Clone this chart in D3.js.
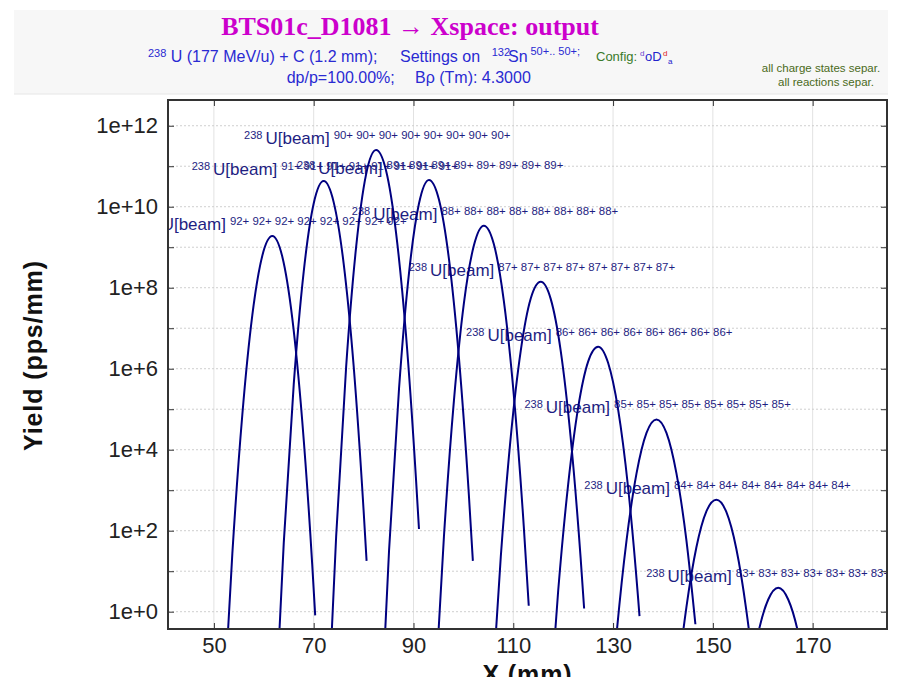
<!DOCTYPE html>
<html><head><meta charset="utf-8">
<script src="https://cdn.jsdelivr.net/npm/d3@7"></script>
<style>
html,body{margin:0;padding:0;background:#fff;}
svg{display:block;font-family:"Liberation Sans",Arial,sans-serif;}
text{white-space:pre;}
</style></head><body>
<svg id="chart" width="897" height="677"></svg>
<script>
// ---------------- data ----------------
const chargeStates = [92, 91, 90, 89, 88, 87, 86, 85, 84, 83];
const peakX = [61.7, 72.0, 82.5, 93.1, 104.1, 115.5, 127.0, 138.7, 150.7, 163.1];
const peakYield = [1.9e9, 4.3e10, 2.5e11, 4.6e10, 3.4e9, 1.4e8, 3.5e6, 5.6e4, 580, 3.9];
const curveX = [
  [51.7, 53.7, 55.7, 57.7, 59.7, 61.7, 63.7, 65.7, 67.7, 69.7, 70.3],
  [62.0, 64.0, 66.0, 68.0, 70.0, 72.0, 74.0, 76.0, 78.0, 80.0, 80.6],
  [72.5, 74.5, 76.5, 78.5, 80.5, 82.5, 84.5, 86.5, 88.5, 90.5, 91.1],
  [83.1, 85.1, 87.1, 89.1, 91.1, 93.1, 95.1, 97.1, 99.1, 101.1, 101.9],
  [94.1, 96.1, 98.1, 100.1, 102.1, 104.1, 106.1, 108.1, 110.1, 112.1, 113.1],
  [105.5, 107.5, 109.5, 111.5, 113.5, 115.5, 117.5, 119.5, 121.5, 123.5, 124.2],
  [117.0, 119.0, 121.0, 123.0, 125.0, 127.0, 129.0, 131.0, 133.0, 135.0, 135.3],
  [128.7, 130.7, 132.7, 134.7, 136.7, 138.7, 140.7, 142.7, 144.7, 146.5],
  [140.7, 142.7, 144.7, 146.7, 148.7, 150.7, 152.7, 154.7, 156.7, 158.7, 160.7],
  [157.1, 159.1, 161.1, 163.1, 165.1, 167.1, 169.1]
];
const curveYield = [
  [1.1e-3, 28, 7.4e4, 2.1e7, 6.2e8, 1.9e9, 5.9e8, 1.8e7, 5.2e4, 15, 0.81],
  [4.8e-4, 50, 4.1e5, 2.5e8, 1.2e10, 4.3e10, 1.3e10, 4.0e8, 1.2e6, 320, 18],
  [3.2e-4, 72, 1.1e6, 1.0e9, 6.3e10, 2.5e11, 7.8e10, 2.3e9, 6.9e6, 1.9e3, 110],
  [2.3e-4, 32, 3.2e5, 2.3e8, 1.2e10, 4.6e10, 1.5e10, 5.2e8, 1.9e6, 760, 18],
  [3.4e-3, 71, 1.6e5, 4.1e7, 1.1e9, 3.4e9, 1.2e9, 4.8e7, 2.3e5, 130, 1.4],
  [3.5e-3, 23, 2.1e4, 2.8e6, 5.4e7, 1.4e8, 5.3e7, 2.8e6, 2.0e4, 21, 1.2],
  [1.4e-3, 3.3, 1.4e3, 1.1e5, 1.5e6, 3.5e6, 1.4e6, 1.0e5, 1.2e3, 2.3, 0.78],
  [2.8e-4, 0.28, 58, 2.6e3, 2.6e4, 5.6e4, 2.6e4, 2.6e3, 58, 0.49],
  [2.9e-5, 0.012, 1.3, 39, 300, 580, 290, 36, 1.1, 9.1e-3, 1.8e-5],
  [0.012, 0.30, 2.0, 3.9, 2.0, 0.30, 0.012]
];
const xDomain = [40.8, 184.9];
const yDomain = [0.374, 4.32e12];
const xTicks = [50, 70, 90, 110, 130, 150, 170];
const yDecades = [1, 1e1, 1e2, 1e3, 1e4, 1e5, 1e6, 1e7, 1e8, 1e9, 1e10, 1e11, 1e12];
const yTickLabels = ["1e+0", "", "1e+2", "", "1e+4", "", "1e+6", "", "1e+8", "", "1e+10", "", "1e+12"];
const isotopeMass = "238";
const beamName = "U[beam]";

// ---------------- layout ----------------
const L = 168, R = 887, T = 100, B = 629;
const svg = d3.select("#chart");
const x = d3.scaleLinear().domain(xDomain).range([L, R]);
const y = d3.scaleLog().domain(yDomain).range([B, T]);

// header box
svg.append("rect").attr("x", 14).attr("y", 10).attr("width", 874).attr("height", 84)
  .attr("fill", "#f7f7f7");
svg.append("line").attr("x1", 14).attr("x2", 888).attr("y1", 94).attr("y2", 94)
  .attr("stroke", "#e6e6e6");

svg.append("text").attr("x", 410).attr("y", 35).attr("text-anchor", "middle")
  .attr("font-family", "'Liberation Serif','Times New Roman',serif")
  .attr("font-weight", "bold").attr("font-size", 26).attr("fill", "#cc00cc")
  .text("BTS01c_D1081 \u2192 Xspace: output");

const blue = "#2a2ad2";
function t(xp, yp, size, fill, str) {
  return svg.append("text").attr("x", xp).attr("y", yp).attr("font-size", size)
    .attr("fill", fill).text(str);
}
t(148, 57, 11, blue, "238");
t(170.7, 62, 16, blue, "U (177 MeV/u) + C (1.2 mm);");
t(400, 62, 16, blue, "Settings on");
t(491.7, 56, 11, blue, "132");
t(508, 62, 16, blue, "Sn");
t(530.5, 55, 11, blue, "50+.. 50+;");
t(596, 61, 13, "#3a7a2a", "Config:");
t(640, 56, 8, "#6a40d0", "d");
t(645, 61, 13, "#2222cc", "oD");
t(663, 56, 8, "#e02020", "d");
t(668, 64, 8, "#2222cc", "a");
t(286.7, 83, 16, blue, "dp/p=100.00%;");
t(415, 83, 16, blue, "B\u03C1 (Tm): 4.3000");
t(821, 72, 11.5, "#4a6a20", "all charge states separ.").attr("text-anchor", "middle");
t(826, 86, 11.5, "#4a6a20", "all reactions separ.").attr("text-anchor", "middle");

// grid
const grid = svg.append("g");
grid.selectAll("line.v").data(xTicks).join("line").attr("class", "v")
  .attr("x1", d => x(d)).attr("x2", d => x(d)).attr("y1", T).attr("y2", B)
  .attr("stroke", "#e2e2e2").attr("stroke-width", 1);
grid.selectAll("line.h").data(yDecades).join("line").attr("class", "h")
  .attr("x1", L).attr("x2", R).attr("y1", d => y(d)).attr("y2", d => y(d))
  .attr("stroke", "#cfcfcf").attr("stroke-width", 1).attr("stroke-dasharray", "2,2");

// clip
svg.append("defs").append("clipPath").attr("id", "plotclip")
  .append("rect").attr("x", L).attr("y", T).attr("width", R - L).attr("height", B - T);
const plot = svg.append("g").attr("clip-path", "url(#plotclip)");

// labels
const labels = plot.append("g").attr("fill", "#1e1e82");
chargeStates.forEach((c, i) => {
  const px = x(peakX[i]), py = y(peakYield[i]);
  const txt = labels.append("text").attr("x", px - 132).attr("y", py - 6);
  txt.append("tspan").attr("font-size", 11).attr("dy", -5).text(isotopeMass);
  txt.append("tspan").attr("font-size", 17).attr("dx", 3).attr("dy", 5).text(beamName);
  txt.append("tspan").attr("font-size", 11.4).attr("dx", 4).attr("dy", -5)
    .text(Array(8).fill(c + "+").join(" "));
});

// curves
const line = d3.line().x(d => x(d[0])).y(d => y(d[1])).curve(d3.curveMonotoneX);
plot.selectAll("path.curve").data(chargeStates.map((c, i) => d3.zip(curveX[i], curveYield[i])))
  .join("path").attr("class", "curve").attr("d", line)
  .attr("fill", "none").attr("stroke", "#000080").attr("stroke-width", 2);

// axes
const axFont = g => {
  g.select(".domain").remove();
  g.selectAll(".tick line").attr("stroke", "#333").attr("stroke-width", 1);
  g.selectAll(".tick text").attr("font-size", 22).attr("fill", "#222")
    .attr("font-family", "'Liberation Sans',Arial,sans-serif");
};
svg.append("g").attr("transform", `translate(0,${B})`)
  .call(d3.axisBottom(x).tickValues(xTicks).tickSizeInner(-6).tickSizeOuter(0).tickPadding(8))
  .call(axFont);
svg.append("g").attr("transform", `translate(0,${T})`)
  .call(d3.axisTop(x).tickValues(xTicks).tickSizeInner(-6).tickSizeOuter(0).tickFormat(""))
  .call(axFont);
svg.append("g").attr("transform", `translate(${L},0)`)
  .call(d3.axisLeft(y).tickValues(yDecades).tickFormat((d, i) => yTickLabels[i])
    .tickSizeInner(-6).tickSizeOuter(0).tickPadding(10))
  .call(axFont);
svg.append("g").attr("transform", `translate(${R},0)`)
  .call(d3.axisRight(y).tickValues(yDecades).tickFormat("").tickSizeInner(-6).tickSizeOuter(0))
  .call(axFont);

svg.append("rect").attr("x", L).attr("y", T).attr("width", R - L).attr("height", B - T)
  .attr("fill", "none").attr("stroke", "#333").attr("stroke-width", 2);

// axis titles
svg.append("text").attr("transform", "translate(42,355.5) rotate(-90)")
  .attr("text-anchor", "middle").attr("font-weight", "bold").attr("font-size", 25)
  .attr("letter-spacing", 0.9).attr("fill", "#111").text("Yield (pps/mm)");
svg.append("text").attr("x", (L + R) / 2).attr("y", 683)
  .attr("text-anchor", "middle").attr("font-weight", "bold").attr("font-size", 25)
  .attr("letter-spacing", 0.9).attr("fill", "#111").text("X (mm)");
</script>
</body></html>
